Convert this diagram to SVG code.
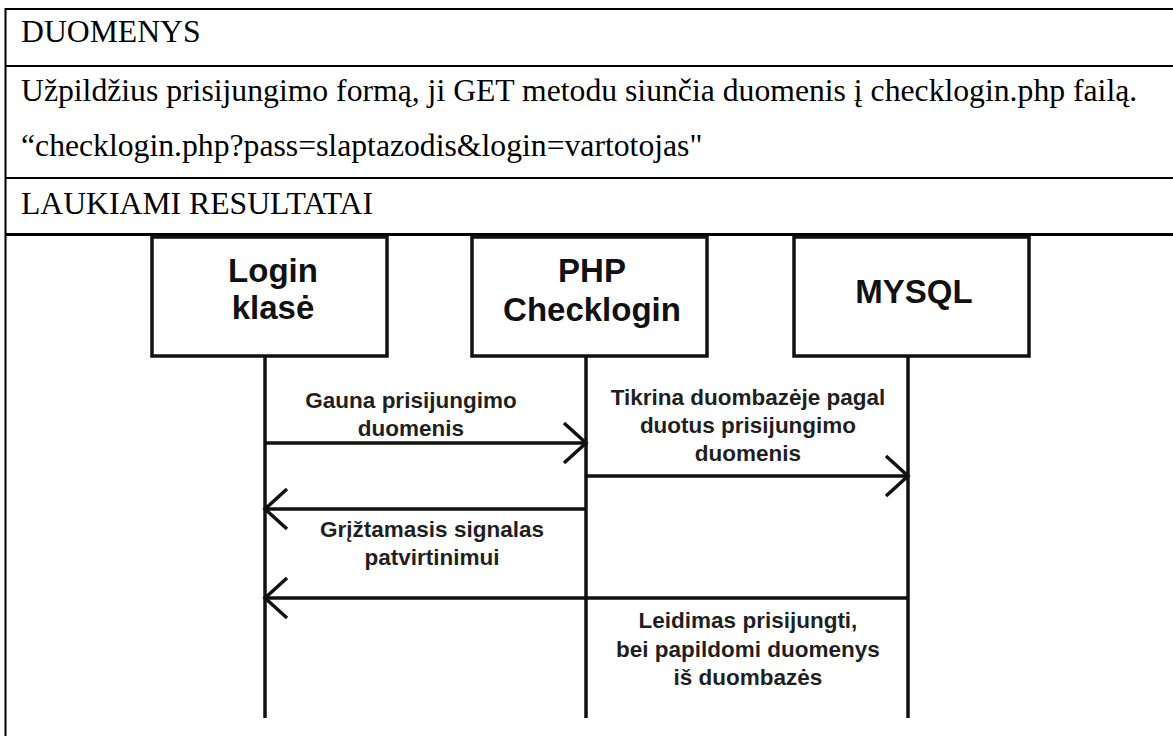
<svg xmlns="http://www.w3.org/2000/svg" width="1173" height="736" viewBox="0 0 1173 736">
<style>
.tbl{stroke:#000;stroke-width:2;fill:none}
.doc{font-family:"Liberation Serif","Times New Roman",serif;font-size:31.7px;fill:#000}
.box{fill:#fff;stroke:#111;stroke-width:3.5}
.life{stroke:#111;stroke-width:3.5;fill:none}
.name{font-family:"Liberation Sans",Arial,sans-serif;font-weight:bold;font-size:33px;fill:#111;text-anchor:middle}
.msg{stroke:#111;stroke-width:3.5;fill:none;marker-end:url(#open)}
.lbl{font-family:"Liberation Sans",Arial,sans-serif;font-weight:bold;font-size:22.5px;fill:#1f1f1f;text-anchor:middle}
</style>
<defs>
<marker id="open" markerUnits="userSpaceOnUse" viewBox="-26 -24 30 48" refX="0" refY="0" markerWidth="30" markerHeight="48" orient="auto">
<path d="M -22 -20 L 0 0 L -22 20" fill="none" stroke="#111" stroke-width="3.5"/>
</marker>
</defs>
<rect width="1173" height="736" fill="#fff"/>
<g id="table">
<line class="tbl" x1="5" y1="9" x2="1173" y2="9"/>
<line class="tbl" x1="5" y1="66" x2="1173" y2="66"/>
<line class="tbl" x1="5" y1="178" x2="1173" y2="178"/>
<line class="tbl" x1="5" y1="234.5" x2="1173" y2="234.5" style="stroke-width:3"/>
<line class="tbl" x1="5.5" y1="8" x2="5.5" y2="736"/>
<text class="doc" x="21" y="42">DUOMENYS</text>
<text class="doc" x="21" y="101">Užpildžius prisijungimo formą, ji GET metodu siunčia duomenis į checklogin.php failą.</text>
<text class="doc" x="21" y="156">“checklogin.php?pass=slaptazodis&amp;login=vartotojas"</text>
<text class="doc" x="21" y="214">LAUKIAMI RESULTATAI</text>
</g>
<g id="login">
<rect class="box" x="152" y="237" width="235" height="119"/>
<text class="name" x="273" y="282">Login</text>
<text class="name" x="273" y="319">klasė</text>
<line class="life" x1="265" y1="356" x2="265" y2="718"/>
</g>
<g id="php">
<rect class="box" x="472" y="237" width="235" height="119"/>
<text class="name" x="592" y="282">PHP</text>
<text class="name" x="592" y="321">Checklogin</text>
<line class="life" x1="586" y1="356" x2="586" y2="718"/>
</g>
<g id="mysql">
<rect class="box" x="794" y="237" width="235" height="119"/>
<text class="name" x="914" y="303">MYSQL</text>
<line class="life" x1="908" y1="356" x2="908" y2="718"/>
</g>
<g id="connectors">
<line class="msg" x1="265" y1="443" x2="586" y2="443"/>
<line class="msg" x1="586" y1="476" x2="908" y2="476"/>
<line class="msg" x1="586" y1="509" x2="265" y2="509"/>
<line class="msg" x1="908" y1="598" x2="265" y2="598"/>
<text class="lbl" x="411" y="408">Gauna prisijungimo</text>
<text class="lbl" x="411" y="436">duomenis</text>
<text class="lbl" x="748" y="405">Tikrina duombazėje pagal</text>
<text class="lbl" x="748" y="433">duotus prisijungimo</text>
<text class="lbl" x="748" y="461">duomenis</text>
<text class="lbl" x="432" y="537">Grįžtamasis signalas</text>
<text class="lbl" x="432" y="565">patvirtinimui</text>
<text class="lbl" x="748" y="628">Leidimas prisijungti,</text>
<text class="lbl" x="748" y="657">bei papildomi duomenys</text>
<text class="lbl" x="748" y="685">iš duombazės</text>
</g>
</svg>
